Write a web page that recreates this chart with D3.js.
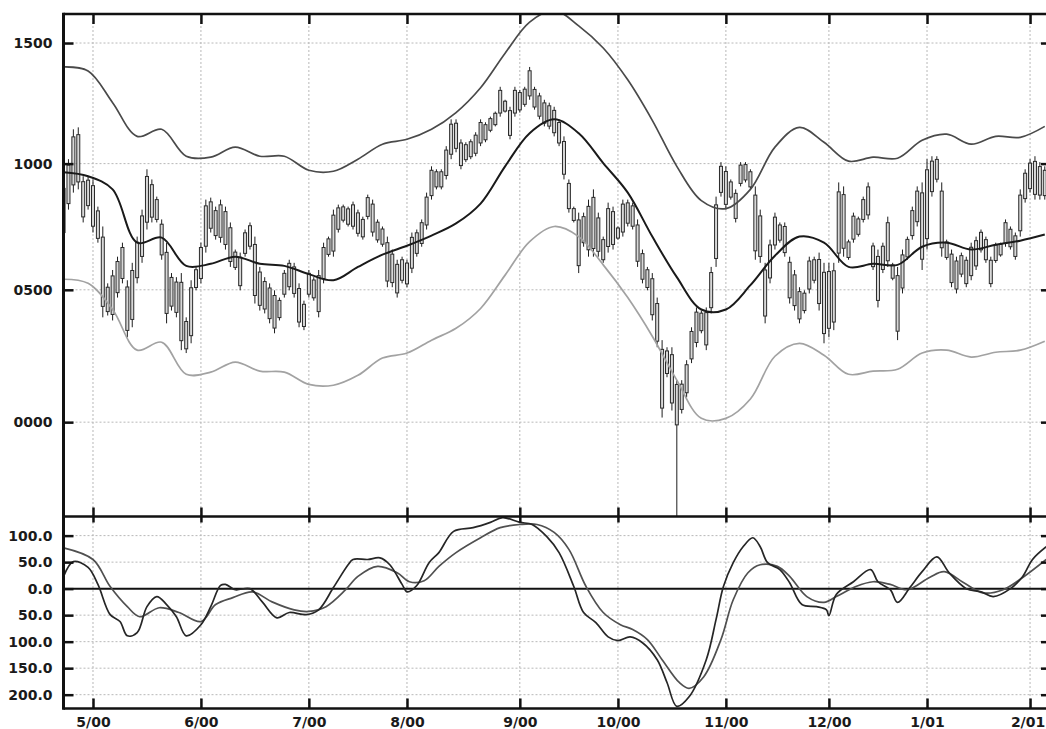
<!DOCTYPE html>
<html><head><meta charset="utf-8">
<script src="https://cdn.jsdelivr.net/npm/d3@7"></script>
<style>
html,body{margin:0;padding:0;background:#fff;}
svg{display:block;}
</style>
</head><body>
<svg id="c" width="1046" height="729"></svg>
<script>
// ---------- data (trading-day index 0 = 20 Apr 2000) ----------
const monthTickBars = [6,28,50,70,93,113,135,156,176,197];
const monthLabels = ["5/00","6/00","7/00","8/00","9/00","10/00","11/00","12/00","1/01","2/01"];
const priceTicks = [10000,10500,11000,11500];
const priceTickLabels = ["0000","0500","1000","1500"];
const oscTicks = [100,50,0,-50,-100,-150,-200];
const oscTickLabels = ["100.0","50.0","0.0","50.0","100.0","150.0","200.0"];

const highs = [
10928,11018,11140,11148,10949,10949,10936,10827,10748,10525,
10577,10629,10684,10537,10605,10708,10815,10977,10936,10867,
10776,10684,10565,10549,10565,10394,10537,10589,10684,10855,
10863,10827,10855,10827,10764,10657,10645,10736,10764,10708,
10589,10549,10525,10498,10470,10577,10617,10605,10525,10458,
10577,10549,10577,10684,10708,10815,10835,10835,10827,10847,
10815,10787,10875,10855,10776,10748,10708,10657,10617,10629,
10617,10724,10736,10776,10883,10989,10977,10977,11071,11181,
11181,11099,11087,11099,11128,11181,11169,11192,11213,11316,
11262,11233,11316,11303,11316,11399,11316,11291,11262,11250,
11233,11181,11111,10936,10827,10803,10803,10855,10896,10803,
10708,10843,10827,10748,10855,10855,10843,10776,10657,10589,
10565,10470,10307,10280,10280,10156,10156,10231,10356,10432,
10420,10432,10589,10867,11006,10989,10936,10896,11006,11006,
10977,10908,10815,10605,10696,10803,10764,10764,10629,10577,
10510,10498,10629,10629,10645,10605,10605,10605,10924,10908,
10696,10803,10787,10867,10924,10684,10657,10684,10787,10605,
10589,10657,10708,10827,10908,10924,11018,11030,11030,10924,
10696,10657,10629,10645,10629,10684,10708,10736,10708,10629,
10684,10684,10776,10748,10724,10896,10977,11018,11030,11006,
10989];
const lows = [
10696,10815,10883,10896,10764,10815,10724,10684,10394,10401,
10382,10470,10525,10318,10356,10525,10605,10736,10764,10764,
10617,10371,10420,10394,10269,10258,10295,10498,10525,10645,
10724,10696,10684,10657,10589,10577,10498,10629,10657,10447,
10420,10409,10371,10333,10382,10470,10498,10470,10356,10345,
10470,10458,10394,10525,10629,10629,10724,10764,10748,10736,
10708,10696,10776,10708,10684,10668,10510,10510,10470,10525,
10510,10565,10629,10668,10736,10855,10896,10896,10936,11018,
11046,10977,11006,11018,11030,11071,11087,11128,11152,11192,
11209,11099,11192,11209,11233,11262,11221,11181,11152,11140,
11111,11071,10936,10803,10764,10565,10668,10629,10629,10629,
10605,10645,10657,10696,10708,10748,10736,10589,10525,10498,
10382,10280,10017,10167,10043,9654,10032,10092,10220,10280,
10333,10269,10409,10589,10867,10815,10855,10764,10908,10924,
10896,10617,10605,10371,10525,10657,10684,10629,10447,10420,
10371,10409,10486,10525,10420,10295,10318,10345,10605,10629,
10617,10684,10708,10764,10776,10577,10432,10565,10589,10537,
10307,10486,10617,10696,10748,10577,10657,10867,10924,10629,
10617,10510,10486,10549,10510,10537,10577,10645,10605,10510,
10605,10629,10668,10657,10617,10708,10843,10883,10855,10855,
10855];
const opens = [
10724,10839,10914,11118,10786,10933,10911,10810,10706,10416,
10405,10489,10665,10344,10386,10547,10630,10948,10915,10855,
10757,10409,10548,10530,10529,10274,10324,10509,10544,10670,
10846,10712,10834,10807,10743,10647,10516,10642,10751,10677,
10569,10532,10507,10353,10393,10483,10603,10589,10505,10359,
10564,10538,10416,10544,10638,10651,10737,10826,10757,10834,
10802,10707,10863,10837,10765,10738,10684,10639,10488,10617,
10523,10584,10642,10681,10754,10871,10967,10906,10952,11038,
11165,10992,11016,11028,11042,11084,11097,11136,11159,11301,
11256,11115,11207,11220,11243,11383,11305,11278,11249,11237,
11218,11168,11090,10920,10819,10594,10684,10656,10864,10782,
10617,10819,10807,10702,10726,10842,10830,10754,10641,10578,
10543,10447,10052,10266,10252,10140,10047,10109,10236,10298,
10410,10289,10431,10622,10989,10968,10926,10780,10920,10996,
10967,10873,10790,10399,10546,10785,10754,10748,10607,10558,
10493,10420,10503,10617,10618,10332,10571,10376,10643,10875,
10626,10698,10717,10776,10906,10671,10459,10579,10763,10597,
10341,10507,10628,10712,10889,10619,10700,10887,11017,10889,
10687,10639,10503,10633,10524,10555,10593,10725,10696,10524,
10614,10636,10763,10737,10630,10731,10859,11002,10876,10988,
10871];
const closes = [
10900,10994,11109,10926,10927,10831,10749,10701,10436,10510,
10554,10610,10544,10511,10575,10686,10790,10765,10785,10776,
10636,10646,10437,10413,10305,10378,10508,10578,10665,10830,
10741,10811,10705,10677,10610,10587,10627,10723,10670,10478,
10440,10426,10389,10478,10459,10564,10512,10486,10376,10444,
10483,10469,10555,10665,10699,10793,10822,10773,10818,10749,
10721,10776,10788,10726,10695,10678,10534,10528,10599,10537,
10604,10705,10723,10763,10865,10973,10906,10967,11055,11161,
11062,11084,11077,11089,11116,11168,11159,11184,11206,11207,
11215,11217,11301,11292,11306,11278,11232,11194,11165,11153,
11126,11084,10957,10819,10772,10774,10787,10828,10661,10650,
10696,10669,10677,10742,10837,10761,10749,10611,10541,10509,
10404,10303,10272,10181,10071,9990,10141,10214,10340,10414,
10343,10412,10567,10834,10884,10836,10865,10880,10994,10934,
10906,10652,10630,10577,10675,10675,10694,10645,10469,10439,
10388,10487,10612,10537,10447,10568,10352,10574,10886,10662,
10687,10789,10778,10855,10794,10590,10630,10670,10613,10545,
10555,10636,10697,10811,10767,10882,10975,11010,10937,10664,
10626,10528,10612,10561,10615,10666,10692,10656,10617,10615,
10675,10677,10681,10668,10711,10873,10961,10899,11009,10873,
10973];

const bandIdx = [0,5,10,15,20,25,30,35,40,45,50,55,60,65,70,75,80,85,90,95,100,
                 105,110,115,120,125,130,135,140,145,150,155,160,165,170,175,180,185,190,195,200];
const upperBand = [11399,11382,11250,11111,11140,11030,11026,11067,11030,11030,10973,10969,11018,11079,11099,11140,11209,11312,11457,11589,11640,
                   11573,11479,11345,11177,10989,10851,10819,10896,11067,11148,11087,11010,11026,11022,11095,11120,11079,11111,11107,11152];
const midBand = [10965,10949,10896,10684,10704,10593,10601,10629,10601,10593,10561,10537,10589,10637,10672,10712,10760,10839,10989,11124,11181,
                 11124,11002,10883,10708,10549,10424,10424,10518,10633,10708,10684,10589,10601,10597,10668,10684,10657,10676,10692,10716];
const lowerBand = [10541,10525,10424,10269,10299,10178,10186,10224,10190,10186,10140,10137,10174,10239,10258,10307,10352,10428,10557,10688,10748,
                   10708,10597,10470,10322,10156,10014,10014,10086,10246,10295,10250,10178,10190,10197,10258,10269,10243,10261,10269,10303];

const macdIdx = [0,2,5,7,9.5,11.5,13,15,17,19,21,23,25,28,30,32,33,35,38,40.5,43.5,46,49.5,52,55,58,59,62,64.5,66.5,
  69,70,72,74.5,76.5,79.5,83.5,87,89.5,93,95.5,98.5,101,104,106,108.5,111,113,115.5,118,121,123,125,127.5,131,
  133,134.5,136.5,138.5,140.5,142,143.5,146,148,150.5,153.5,155.5,156,157.5,161,164.5,166,168.5,170,172.5,
  175,178,180.5,184,187,189.5,193,195.5,197.5,200.3];
const macdVals = [23,51,40,8,-49,-62,-89,-83,-34,-15,-30,-53,-89,-68,-34,6,8,-2,0,-25,-55,-45,-49,-40,2,45,55,55,58,45,
  8,-6,6,49,68,108,115,125,134,125,121,98,68,4,-45,-64,-91,-98,-91,-102,-134,-177,-222,-204,-134,
  -58,4,49,79,96,79,49,36,11,-30,-34,-40,-51,-11,13,36,13,-2,-26,2,
  32,60,30,0,-6,-15,0,23,55,79];
const signalIdx = [0,6,9.5,13,15.5,19.5,23.5,28,31,34.5,38.5,42.5,47,50,53.5,57.5,60,64,68,70.5,73.5,76.5,80,85,89,
  93,96.5,100,103,106.5,110,113.5,116,119,122,125.5,127.5,130.5,134,136.5,139.5,142,145.5,148,151.5,155,157.5,
  161.5,165,168.5,172,176.5,179.5,183.5,187.5,191.5,195.5,200.3];
const signalVals = [77,55,4,-34,-53,-36,-45,-62,-30,-17,-6,-25,-40,-43,-34,-2,23,42,30,13,15,42,68,96,115,
  121,121,106,74,4,-45,-68,-77,-96,-134,-177,-188,-166,-96,-21,30,45,42,23,-15,-26,-15,
  4,13,8,-2,21,32,11,-8,-2,21,55];

// ---------- layout ----------
const L = 63.5, R = 1046, TOP = 14, SEP = 516.5, BOT = 708.5;
const FONT = '"DejaVu Sans", sans-serif';

const x = d3.scaleLinear().domain([-0.114, 200.25]).range([63, 1046]);
const yP = d3.scaleLog().domain([9660, 11628]).range([516, 13]);
const yO = d3.scaleLinear().domain([-227, 137]).range([709, 516]);

const svg = d3.select("#c");
svg.append("rect").attr("width",1046).attr("height",729).attr("fill","#fff");
const defs = svg.append("defs");
defs.append("clipPath").attr("id","clipTop").append("rect")
  .attr("x",L).attr("y",TOP).attr("width",R-L+5).attr("height",SEP-TOP);
defs.append("clipPath").attr("id","clipBot").append("rect")
  .attr("x",L).attr("y",SEP).attr("width",R-L+5).attr("height",BOT-SEP);

// ---------- grid ----------
const grid = svg.append("g").attr("stroke","#b8b8b8").attr("stroke-width",1).attr("stroke-dasharray","2,2").attr("fill","none");
grid.selectAll("line.v").data(monthTickBars).join("line")
  .attr("x1",d=>x(d)).attr("x2",d=>x(d)).attr("y1",TOP).attr("y2",BOT);
grid.selectAll("line.hp").data(priceTicks).join("line")
  .attr("x1",L).attr("x2",R).attr("y1",d=>yP(d)).attr("y2",d=>yP(d));
grid.selectAll("line.ho").data(oscTicks.filter(v=>v!==0)).join("line")
  .attr("x1",L).attr("x2",R).attr("y1",d=>yO(d)).attr("y2",d=>yO(d));

// ---------- price bars ----------
const idx = d3.range(highs.length);
const gBars = svg.append("g").attr("clip-path","url(#clipTop)");
gBars.selectAll("line").data(idx).join("line")
  .attr("x1",k=>x(k)).attr("x2",k=>x(k))
  .attr("y1",k=>yP(highs[k])).attr("y2",k=>yP(lows[k]))
  .attr("stroke","#1e1e1e").attr("stroke-width",1);
gBars.selectAll("rect").data(idx).join("rect")
  .attr("x",k=>x(k)-1.5).attr("width",3)
  .attr("y",k=>yP(Math.max(opens[k],closes[k])))
  .attr("height",k=>Math.max(1, yP(Math.min(opens[k],closes[k])) - yP(Math.max(opens[k],closes[k]))))
  .attr("fill","#d8d8d8").attr("stroke","#2a2a2a").attr("stroke-width",1);

// ---------- bands ----------
const gLines = svg.append("g").attr("clip-path","url(#clipTop)").attr("fill","none");
const lineP = d3.line().x(d=>x(d[0])).y(d=>yP(d[1])).curve(d3.curveCatmullRom.alpha(0.5));
gLines.append("path").datum(bandIdx.map((k,i)=>[k,lowerBand[i]])).attr("d",lineP)
  .attr("stroke","#a2a2a2").attr("stroke-width",1.7);
gLines.append("path").datum(bandIdx.map((k,i)=>[k,upperBand[i]])).attr("d",lineP)
  .attr("stroke","#4a4a4a").attr("stroke-width",1.7);
gLines.append("path").datum(bandIdx.map((k,i)=>[k,midBand[i]])).attr("d",lineP)
  .attr("stroke","#1a1a1a").attr("stroke-width",2);

// ---------- oscillator ----------
const gOsc = svg.append("g").attr("clip-path","url(#clipBot)").attr("fill","none");
gOsc.append("line").attr("x1",L).attr("x2",R).attr("y1",yO(0)).attr("y2",yO(0))
  .attr("stroke","#111").attr("stroke-width",2);
const lineO = d3.line().x(d=>x(d[0])).y(d=>yO(d[1])).curve(d3.curveCatmullRom.alpha(0.5));
gOsc.append("path").datum(signalIdx.map((k,i)=>[k,signalVals[i]])).attr("d",lineO)
  .attr("stroke","#505050").attr("stroke-width",1.7);
gOsc.append("path").datum(macdIdx.map((k,i)=>[k,macdVals[i]])).attr("d",lineO)
  .attr("stroke","#262626").attr("stroke-width",1.7);

// ---------- axes ----------
function styleAxis(g){
  g.select(".domain").remove();
  g.selectAll(".tick line").attr("stroke","#111").attr("stroke-width",2.5);
  g.selectAll(".tick text").attr("font-family",FONT).attr("font-weight","bold")
    .attr("font-size",14).attr("fill","#1a1a1a");
}
svg.append("g").attr("transform",`translate(${L},0)`)
  .call(d3.axisLeft(yP).tickValues(priceTicks).tickFormat((d,i)=>priceTickLabels[i]).tickSizeInner(-10).tickSizeOuter(0).tickPadding(11))
  .call(styleAxis);
svg.append("g").attr("transform",`translate(${L},0)`)
  .call(d3.axisLeft(yO).tickValues(oscTicks).tickFormat((d,i)=>oscTickLabels[i]).tickSizeInner(-10).tickSizeOuter(0).tickPadding(11))
  .call(styleAxis);
svg.append("g").attr("transform",`translate(${R},0)`)
  .call(d3.axisRight(yP).tickValues(priceTicks).tickFormat("").tickSizeInner(-5).tickSizeOuter(0))
  .call(styleAxis);
svg.append("g").attr("transform",`translate(${R},0)`)
  .call(d3.axisRight(yO).tickValues(oscTicks).tickFormat("").tickSizeInner(-5).tickSizeOuter(0))
  .call(styleAxis);
svg.append("g").attr("transform",`translate(0,${TOP})`)
  .call(d3.axisTop(x).tickValues(monthTickBars).tickFormat("").tickSizeInner(-10).tickSizeOuter(0))
  .call(styleAxis);
svg.append("g").attr("transform",`translate(0,${SEP})`)
  .call(d3.axisTop(x).tickValues(monthTickBars).tickFormat("").tickSizeInner(9).tickSizeOuter(0))
  .call(styleAxis);
svg.append("g").attr("transform",`translate(0,${SEP})`)
  .call(d3.axisBottom(x).tickValues(monthTickBars).tickFormat("").tickSizeInner(6).tickSizeOuter(0))
  .call(styleAxis);
const xAxisBottom = svg.append("g").attr("transform",`translate(0,${BOT})`)
  .call(d3.axisBottom(x).tickValues(monthTickBars).tickFormat((d,i)=>monthLabels[i]).tickSizeInner(-10).tickSizeOuter(0).tickPadding(8.5))
  .call(styleAxis);
// keep the last label just inside the right edge
xAxisBottom.selectAll(".tick text").filter((d,i)=>i===monthTickBars.length-1).attr("dx",-2.5);

// frame
const frame = svg.append("g").attr("stroke","#111").attr("fill","none");
frame.append("line").attr("x1",L).attr("x2",L).attr("y1",TOP-1.2).attr("y2",BOT+1.2).attr("stroke-width",3);
frame.append("line").attr("x1",L).attr("x2",R).attr("y1",TOP).attr("y2",TOP).attr("stroke-width",2.5);
frame.append("line").attr("x1",L).attr("x2",R).attr("y1",SEP).attr("y2",SEP).attr("stroke-width",2.5);
frame.append("line").attr("x1",L).attr("x2",R).attr("y1",BOT).attr("y2",BOT).attr("stroke-width",2.5);
</script>
</body></html>
